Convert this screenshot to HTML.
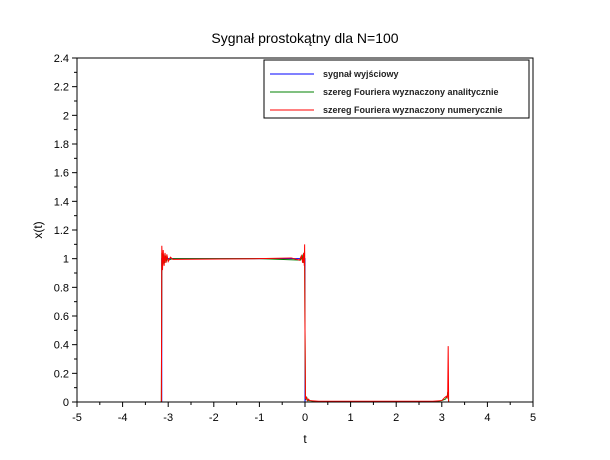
<!DOCTYPE html>
<html><head><meta charset="utf-8"><style>
body{margin:0;background:#fff;}
svg{display:block;font-family:"Liberation Sans",sans-serif;}
</style></head><body>
<svg id="chart" width="610" height="460"></svg>
<script>
const xTicks=[-5,-4,-3,-2,-1,0,1,2,3,4,5];
const yTicks=[0,0.2,0.4,0.6,0.8,1,1.2,1.4,1.6,1.8,2,2.2,2.4];
const signalT=[-5,-3.1416,-3.1416,0,0,5];
const signalY=[0,0,1,1,0,0];
const analyticT=[-5,-3.17,-3.15,-3.145,-3.14,-3.12,-3.10,-3.08,-3.06,-3.04,-3.02,-3.0,-2.9,-1,-0.1,-0.06,-0.04,-0.02,-0.01,0,0.01,0.02,0.04,0.06,0.1,0.3,2.8,3.0,3.08,3.1,3.12,3.13,3.14,3.15,5];
const analyticY=[0,0,0,0.5,1.04,0.96,1.03,0.97,1.02,0.98,1.01,0.99,1,1,0.99,1.02,0.97,1.03,1.05,0.5,0.04,0.02,0.03,0.01,0.01,0,0,0.01,0.02,0.03,0.04,0.07,0.06,0,0];
const numericT=[-5,-3.17,-3.15,-3.145,-3.14,-3.125,-3.11,-3.09,-3.07,-3.05,-3.03,-3.0,-2.95,-2.9,-1,-0.3,-0.12,-0.08,-0.05,-0.03,-0.015,-0.008,0,0.01,0.02,0.03,0.05,0.08,0.1,0.3,2.2,2.8,3.0,3.06,3.1,3.12,3.13,3.14,3.15,5];
const numericY=[0,0,0,0.5,1.09,0.92,1.06,0.95,1.04,0.97,1.03,0.98,1.01,0.995,1,1.005,0.99,1.02,0.97,1.04,0.95,1.1,0.5,0.02,0.04,0.03,0.01,0.02,0.01,0.005,0.005,0.005,0.01,0.03,0.04,0.03,0.06,0.39,0,0];
const legendLabels=["sygnał wyjściowy","szereg Fouriera wyznaczony analitycznie","szereg Fouriera wyznaczony numerycznie"];
const legendColors=["#0000ff","#008000","#ff0000"];
const NS="http://www.w3.org/2000/svg";
const svg=document.getElementById('chart');
const X0=77,X1=533,Y0=402,Y1=58;
const sx=t=>X0+(t+5)/10*(X1-X0);
const sy=v=>Y0-v/2.4*(Y0-Y1);
function mk(tag,a,parent){const e=document.createElementNS(NS,tag);for(const k in a)e.setAttribute(k,a[k]);(parent||svg).appendChild(e);return e;}
const title=mk('text',{x:305,y:43,'text-anchor':'middle','font-size':14});
title.textContent='Sygnał prostokątny dla N=100';


function series(T,Y,c,name){
 const p=mk('polyline',{points:T.map((t,i)=>sx(t)+','+sy(Y[i])).join(' '),fill:'none',stroke:c,'stroke-width':1});
 
 
}
series(signalT,signalY,legendColors[0],'signal-line');
series(analyticT,analyticY,legendColors[1],'analytic-fourier-line');
series(numericT,numericY,legendColors[2],'numeric-fourier-line');
const frame=mk('rect',{x:X0,y:Y1,width:X1-X0,height:Y0-Y1,fill:'none',stroke:'#000','stroke-width':1});


xTicks.forEach((t,i)=>{
 mk('line',{x1:sx(t),x2:sx(t),y1:Y0,y2:Y0+5,stroke:'#000'});
 if(i<xTicks.length-1){const m=sx(t+0.5);mk('line',{x1:m,x2:m,y1:Y0,y2:Y0+3,stroke:'#000'});}
 const l=mk('text',{x:sx(t),y:Y0+19,'text-anchor':'middle','font-size':11});
 l.textContent=String(t);
 
 
});
yTicks.forEach((v,i)=>{
 mk('line',{x1:X0-5,x2:X0,y1:sy(v),y2:sy(v),stroke:'#000'});
 if(i<yTicks.length-1){const m=sy(v+0.1);mk('line',{x1:X0-3,x2:X0,y1:m,y2:m,stroke:'#000'});}
 const l=mk('text',{x:X0-8,y:sy(v)+4,'text-anchor':'end','font-size':11});
 l.textContent=String(v);
 
 
});
const xt=mk('text',{x:305,y:443,'text-anchor':'middle','font-size':12});xt.textContent='t';


const yt=mk('text',{x:0,y:0,'text-anchor':'middle','font-size':12,transform:'translate(42,230) rotate(-90)'});yt.textContent='x(t)';


const lg=mk('g',{});


mk('rect',{x:264,y:60,width:265,height:58,fill:'#fff',stroke:'#000'},lg);
legendLabels.forEach((s,i)=>{
 const y=74+i*18;
 mk('line',{x1:270,x2:314,y1:y,y2:y,stroke:legendColors[i]},lg);
 const t=mk('text',{x:323,y:y+3,'font-size':9,'font-weight':'bold',fill:'#222'},lg);t.textContent=s;
 
 
});
</script>
</body></html>
